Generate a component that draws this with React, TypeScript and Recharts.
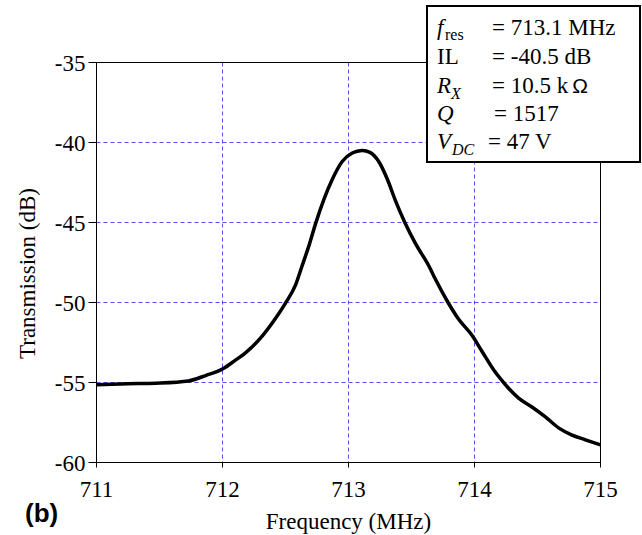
import React from 'react'
import { LineChart, Line, XAxis, YAxis, CartesianGrid, ReferenceArea } from 'recharts'

// frequency (MHz) and transmission (dB)
const freq = [
  711.0, 711.25, 711.47, 711.73, 711.87, 712.0, 712.1, 712.18, 712.32, 712.42,
  712.5, 712.58, 712.63, 712.69, 712.74, 712.87, 712.95, 713.03, 713.07, 713.11,
  713.17, 713.24, 713.31, 713.37, 713.45, 713.53, 713.64, 713.69, 713.79, 713.87,
  713.98, 714.06, 714.16, 714.22, 714.27, 714.35, 714.45, 714.56, 714.67, 714.77,
  714.88, 715.0,
]
const transmission = [
  -55.14, -55.08, -55.04, -54.9, -54.55, -54.16, -53.62, -53.16, -52.05, -51.0,
  -50.04, -48.9, -47.75, -46.35, -45.04, -42.33, -41.19, -40.66, -40.55, -40.5,
  -40.62, -41.19, -42.33, -43.58, -45.04, -46.29, -47.75, -48.55, -50.0, -51.0,
  -52.05, -53.06, -54.3, -54.9, -55.36, -55.98, -56.5, -57.13, -57.85, -58.27,
  -58.58, -58.9,
]

const xTicks = [711, 712, 713, 714, 715]
const yTicks = [-60, -55, -50, -45, -40, -35]

const data = freq.map((f, i) => ({ f, t: transmission[i] }))

const serif = '"Liberation Serif", "Times New Roman", serif'
const sans = '"Liberation Sans", Arial, sans-serif'
const tickStyle = { fill: '#000', fontSize: 23, fontFamily: serif }

const XLabel = (props: any) => {
  const vb = props.viewBox || { x: 96.5, y: 462.5, width: 504, height: 60 }
  return (
    <text x={vb.x + vb.width / 2} y={vb.y + 66} textAnchor="middle" fill="#000" fontSize={23} fontFamily={serif}>
      Frequency (MHz)
    </text>
  )
}

const YLabel = (props: any) => {
  const vb = props.viewBox || { x: 36.5, y: 62.5, width: 60, height: 400 }
  const cy = vb.y + vb.height / 2 + 11
  return (
    <text x={27} y={cy} transform={`rotate(-90, 27, ${cy})`} textAnchor="middle" dominantBaseline="central" fill="#000" fontSize={23} fontFamily={serif}>
      Transmission (dB)
    </text>
  )
}

const App = () => {
  return (
    <div style={{ position: 'absolute', left: 0, top: 0, width: 642, height: 535, background: '#fff' }}>
      <LineChart width={642} height={535} data={data} margin={{ top: 62.5, right: 41.5, bottom: 12.5, left: 36.5 }}>
        <CartesianGrid stroke="#5050ee" strokeDasharray="4 3" />
        <XAxis
          dataKey="f"
          type="number"
          domain={[711, 715]}
          ticks={xTicks}
          height={60}
          tickSize={5}
          tickMargin={13}
          axisLine={{ stroke: '#000' }}
          tickLine={{ stroke: '#000' }}
          tick={tickStyle}
          label={<XLabel />}
        />
        <YAxis
          type="number"
          domain={[-60, -35]}
          ticks={yTicks}
          width={60}
          tickSize={8}
          tickMargin={3}
          axisLine={{ stroke: '#000' }}
          tickLine={{ stroke: '#000' }}
          tick={tickStyle}
          label={<YLabel />}
        />
        <ReferenceArea x1={711} x2={715} y1={-60} y2={-35} fill="none" stroke="#000" strokeWidth={1} />
        <Line
          type="monotone"
          dataKey="t"
          stroke="#000"
          strokeWidth={3.5}
          dot={false}
          isAnimationActive={false}
        />
      </LineChart>

      {/* parameter box and panel letter */}
      <svg width={642} height={535} style={{ position: 'absolute', left: 0, top: 0, pointerEvents: 'none' }}>
        <rect x={427} y={6} width={213} height={156} fill="#fff" stroke="#000" strokeWidth={2} />
        <g fill="#000" fontSize={23} fontFamily={serif}>
          <text x={437} y={35} fontStyle="italic">f</text>
          <text x={445} y={40} fontSize={16}>res</text>
          <text x={492} y={35}>= 713.1 MHz</text>

          <text x={437} y={64}>IL</text>
          <text x={492} y={64}>= -40.5 dB</text>

          <text x={437} y={93} fontStyle="italic">R</text>
          <text x={451} y={99} fontSize={16} fontStyle="italic">X</text>
          <text x={492} y={93}>= 10.5 k<tspan dx={4} fontFamily={sans} fontSize={21}>Ω</tspan></text>

          <text x={437} y={121} fontStyle="italic">Q</text>
          <text x={494} y={121}>= 1517</text>

          <text x={437} y={149} fontStyle="italic">V</text>
          <text x={452} y={155} fontSize={16} fontStyle="italic">DC</text>
          <text x={488} y={149}>= 47 V</text>
        </g>
        <text x={25} y={522} fill="#000" fontSize={26} fontWeight="bold" fontFamily={sans}>(b)</text>
      </svg>
    </div>
  )
}

export default App
